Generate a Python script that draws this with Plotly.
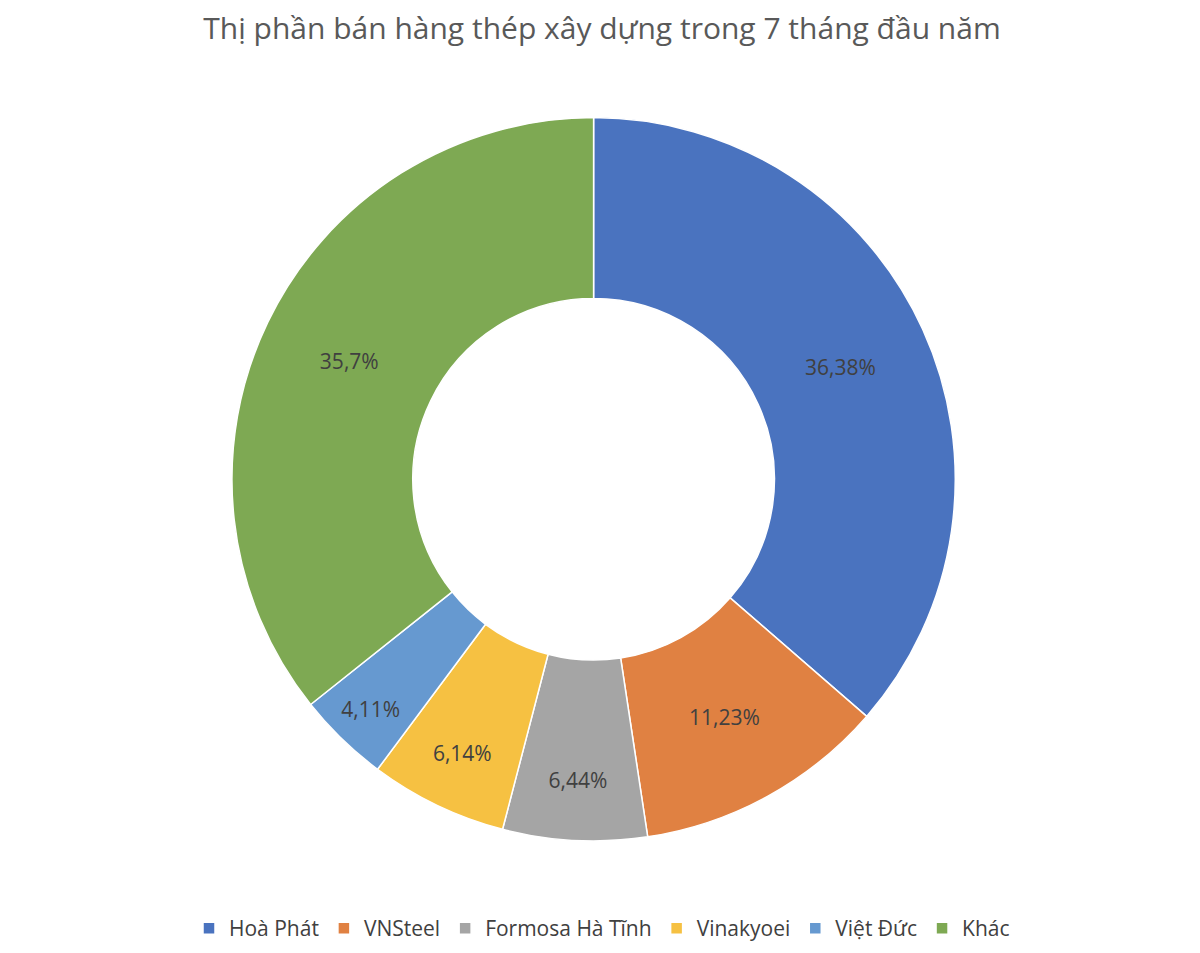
import plotly.graph_objects as go

companies = ["Hoà Phát", "VNSteel", "Formosa Hà Tĩnh", "Vinakyoei", "Việt Đức", "Khác"]
shares = [36.38, 11.23, 6.44, 6.14, 4.11, 35.7]
share_labels = ["36,38%", "11,23%", "6,44%", "6,14%", "4,11%", "35,7%"]
colors = ["#4A73BF", "#E08142", "#A5A5A5", "#F6C142", "#6699D0", "#7EA953"]

fig = go.Figure(go.Pie(
    labels=companies,
    values=shares,
    text=share_labels,
    textinfo="text",
    textposition="inside",
    insidetextorientation="horizontal",
    textfont=dict(size=21, color="#404040", family="Open Sans"),
    hole=0.5,
    sort=False,
    direction="clockwise",
    rotation=0,
    marker=dict(colors=colors, line=dict(color="white", width=1.5)),
    domain=dict(x=[0.186, 0.790], y=[0.126, 0.885]),
))

fig.update_layout(
    width=1200, height=953,
    paper_bgcolor="white",
    margin=dict(l=0, r=0, t=0, b=0),
    title=dict(text="Thị phần bán hàng thép xây dựng trong 7 tháng đầu năm",
               x=0.495, y=0.978, xanchor="center", yanchor="middle",
               font=dict(size=30, color="#595959", family="Open Sans")),
    legend=dict(orientation="h", x=0.495, xanchor="center", y=0.034, yanchor="middle",
                font=dict(size=21, color="#404040", family="Open Sans"),
                traceorder="normal"),
)

fig.write_html("out.html")
